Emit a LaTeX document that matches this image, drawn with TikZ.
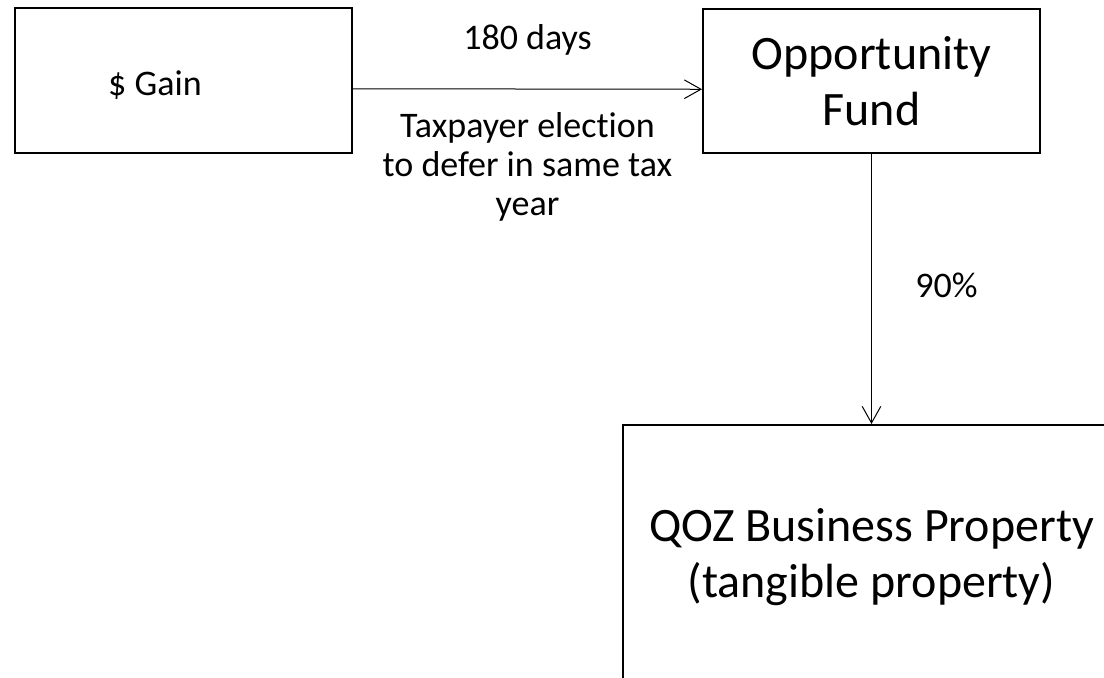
\documentclass[tikz,border=0pt]{standalone}
\usepackage{fontspec}
\setmainfont{Carlito}[Ligatures=NoCommon]
\usetikzlibrary{arrows.meta}
\begin{document}
\begin{tikzpicture}[x=0.75pt,y=-0.75pt,
  box/.style={draw=black,line width=1.5pt,rectangle,inner sep=0pt},
  big/.style={font=\fontsize{36}{42}\selectfont},
  small/.style={font=\fontsize{27}{29}\selectfont},
  arr/.style={draw=black,line width=0.75pt,-{Straight Barb[length=12.5pt,width=14pt]}}]
\useasboundingbox (0,0) rectangle (1104,678);
\node[box,minimum width=252.75pt,minimum height=108.75pt] (gain) at (183.5,80.5) {};
\node[small,anchor=base] (gaintext) at (155,95) {\$ Gain};
\node[box,minimum width=252.75pt,minimum height=108pt] (opp) at (871.5,81) {};
\node[big,align=center,anchor=base] (opptext) at (871.5,125) {Opportunity\\Fund};
\node[box,minimum width=372.75pt,minimum height=195pt] (qoz) at (871.5,555) {};
\node[big,align=center,anchor=base] (qoztext) at (871.5,597) {QOZ Business Property\\(tangible property)};
\draw[arr] ([yshift=-6.2pt]gain.east) -- ([yshift=-6.2pt]opp.west);
\draw[arr] (opp.south) -- (qoz.north);
\node[small,anchor=base] (l180) at (527.5,49) {180 days};
\node[small,align=center,anchor=base] (ltax) at (527.5,215) {Taxpayer election\\to defer in same tax\\year};
\node[small,anchor=base] (l90) at (946.5,297) {90\%};
\end{tikzpicture}
\end{document}
